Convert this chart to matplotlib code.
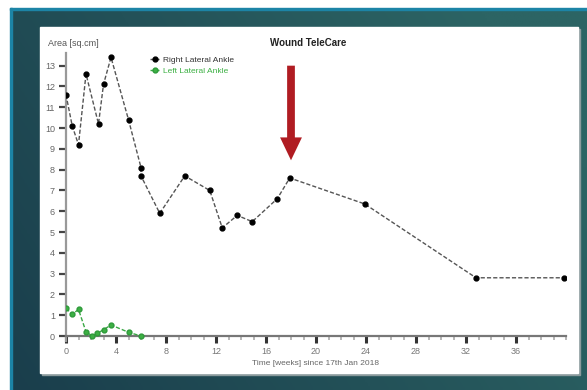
import numpy as np
import matplotlib
matplotlib.use("Agg")
import matplotlib.pyplot as plt
from matplotlib.patches import Rectangle, FancyArrow
from matplotlib.ticker import MultipleLocator

plt.rcParams['font.family'] = ['Liberation Sans', 'DejaVu Sans']

# ---- data ----
right_x = [0, 0.5, 1.0, 1.6, 2.6, 3.0, 3.6, 5.0, 6.0, 6.0, 7.5, 9.5, 11.5, 12.5,
           13.7, 14.9, 16.9, 17.9, 23.9, 32.8, 39.8]
right_y = [11.6, 10.1, 9.2, 12.6, 10.2, 12.1, 13.4, 10.4, 8.1, 7.7, 5.9, 7.7, 7.0, 5.2,
           5.8, 5.5, 6.6, 7.6, 6.35, 2.8, 2.8]
left_x = [0, 0.5, 1.0, 1.6, 2.1, 2.5, 3.0, 3.6, 5.0, 6.0]
left_y = [1.33, 1.04, 1.28, 0.2, 0.0, 0.13, 0.3, 0.53, 0.18, 0.0]
x_ticks = [0, 4, 8, 12, 16, 20, 24, 28, 32, 36]
y_ticks = list(range(0, 14))
arrow_week = 18
title = "Wound TeleCare"
ylabel = "Area [sq.cm]"
xlabel = "Time [weeks] since 17th Jan 2018"
legend_labels = ["Right Lateral Ankle", "Left Lateral Ankle"]

W, H = 587, 390
fig = plt.figure(figsize=(W / 100, H / 100), dpi=100)
fig.patch.set_facecolor('white')

# ---- background gradient frame ----
bg = fig.add_axes([10 / W, 0, 1 - 10 / W, 1 - 8 / H])
bg.set_axis_off()
nx, ny = 200, 100
gx = np.linspace(0, 1, nx)[None, :]
gy = np.linspace(0, 1, ny)[:, None]
c_left = np.array([26, 62, 76]) / 255
c_right = np.array([44, 100, 100]) / 255
t = np.clip(gx * 0.8 + (1 - gy) * 0.35, 0, 1)
img = c_left[None, None, :] * (1 - t[..., None]) + c_right[None, None, :] * t[..., None]
bg.imshow(img, aspect='auto', extent=[0, 1, 0, 1], origin='upper')
bg.set_xlim(0, 1)
bg.set_ylim(0, 1)
# blue thin border lines (top and left)
fig.patches.append(Rectangle((10 / W, 1 - 10 / H), 1, 2 / H, transform=fig.transFigure,
                             color='#1c84a6', zorder=2))
fig.patches.append(Rectangle((10 / W, 0), 2 / W, 1 - 8 / H, transform=fig.transFigure,
                             color='#1c84a6', zorder=2))
# white panel with shadow
px0, py0, px1, py1 = 40, 27, 578, 373
fig.patches.append(Rectangle(((px0 + 2) / W, (H - py1 - 2) / H), (px1 - px0) / W, (py1 - py0) / H,
                             transform=fig.transFigure, color='#8a9a9c', zorder=2))
fig.patches.append(Rectangle((px0 / W, (H - py1) / H), (px1 - px0) / W, (py1 - py0) / H,
                             transform=fig.transFigure, color='white', zorder=3))

# ---- main axes ----
ax = fig.add_axes([66 / W, (H - 341.2) / H, 500 / W, 288 / H])
ax.set_zorder(5)
ax.patch.set_alpha(0)
ax.set_xlim(0, 40)
ax.set_ylim(-0.25, 13.6)

ax.plot(right_x, right_y, linestyle=(0, (3, 1.5)), color='#555555', linewidth=1.0,
        marker='o', markersize=3.5, markerfacecolor='black', markeredgecolor='black',
        label=legend_labels[0], zorder=4)
ax.plot(left_x, left_y, linestyle=(0, (3, 1.5)), color='#3aa845', linewidth=1.0,
        marker='o', markersize=3.5, markerfacecolor='#3cb043', markeredgecolor='#2e9a3a',
        label=legend_labels[1], zorder=4)

for s in ['top', 'right']:
    ax.spines[s].set_visible(False)
ax.spines['bottom'].set_position(('data', 0))
ax.spines['bottom'].set_color('#777777')
ax.spines['bottom'].set_linewidth(1.6)
ax.spines['left'].set_color('#999999')
ax.spines['left'].set_linewidth(1.6)

ax.set_xticks(x_ticks)
ax.xaxis.set_minor_locator(MultipleLocator(1))
ax.set_yticks(y_ticks)
ax.tick_params(axis='x', which='major', direction='out', length=5, width=2.2,
               color='#333333', labelsize=6.5, labelcolor='#777777', pad=3)
ax.tick_params(axis='x', which='minor', direction='out', length=3, width=1.2,
               color='#aaaaaa')
ax.tick_params(axis='y', which='major', direction='out', length=5, width=1.6,
               color='#444444', labelsize=6.5, labelcolor='#666666', pad=3)

ax.text(20, -1.3, xlabel, ha='center', va='center', fontsize=6, color='#666666')
fig.text(48 / W, 1 - 43 / H, ylabel, ha='left', va='center', fontsize=6.5, color='#555555',
         zorder=6)
fig.text(308 / W, 1 - 43 / H, title, ha='center', va='center', fontsize=7,
         fontweight='bold', color='#222222', zorder=6)

leg = ax.legend(loc='upper left', bbox_to_anchor=(0.162, 1.0), frameon=False,
                fontsize=6, handlelength=1.0, handletextpad=0.5, labelspacing=0.3,
                borderaxespad=0)
leg.get_texts()[0].set_color('#333333')
leg.get_texts()[1].set_color('#3cb043')

# red arrow pointing to the week of the peak
arrow = FancyArrow(arrow_week, 13.0, 0, -4.55, width=0.62, head_width=1.75, head_length=1.1,
                   length_includes_head=True, color='#b01c22', linewidth=0, zorder=6)
ax.add_patch(arrow)

fig.savefig('out.png', dpi=100)
